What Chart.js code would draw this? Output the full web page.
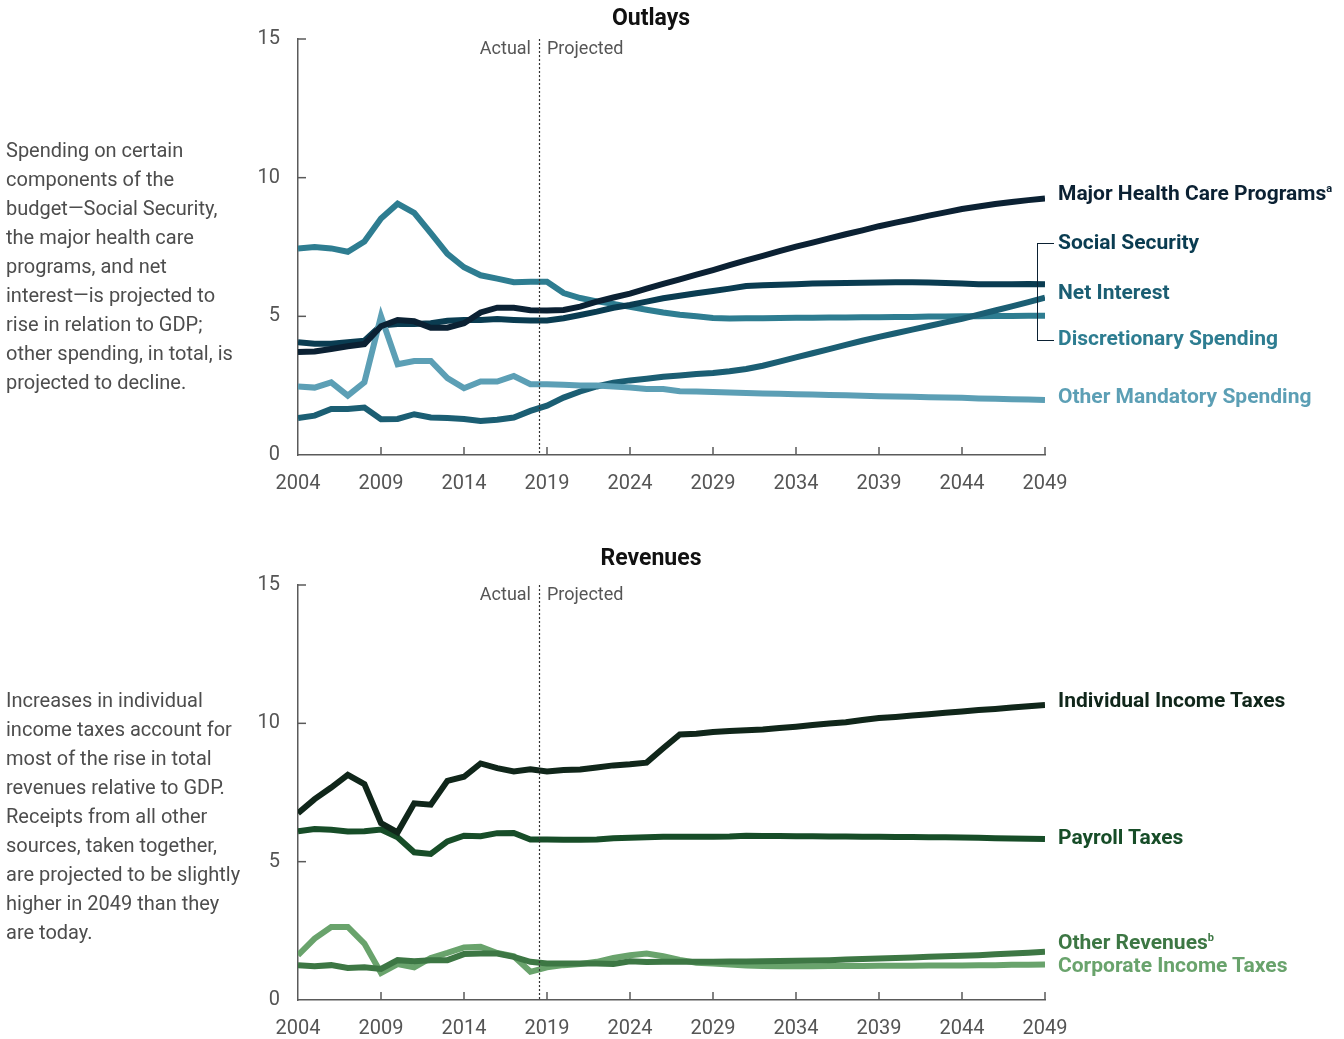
<!DOCTYPE html>
<html>
<head>
<meta charset="utf-8">
<script src="https://cdn.jsdelivr.net/npm/chart.js@4.4.1/dist/chart.umd.min.js"></script>
<style>
  body { margin: 0; background: #fff; font-family: Roboto, "Open Sans", sans-serif; }
  #wrap { position: relative; width: 1344px; height: 1039px; overflow: hidden; }
  canvas { position: absolute; left: 0; }
  .txt { position: absolute; white-space: nowrap; }
  .title { font-weight: 700; font-size: 23px; color: #111; transform: translate(-50%, -50%); }
  .note { font-size: 20px; line-height: 29px; color: #4d4d4d; left: 6px; }
  .ap { font-size: 18px; color: #555; transform: translateY(-50%); }
  .lab { font-weight: 700; font-size: 21px; left: 1058px; transform: translateY(-50%); }
  .lab sup { font-size: 11px; vertical-align: 8px; line-height: 0; }
  #bracket { position: absolute; left: 1037px; top: 243px; width: 17px; height: 98px;
             border: 1.5px solid #0b2133; border-right: none; box-sizing: border-box; }
</style>
</head>
<body>
<div id="wrap">
  <canvas id="outlays" width="1344" height="500" style="top:0"></canvas>
  <canvas id="revenues" width="1344" height="539" style="top:500px"></canvas>

  <div class="txt title" style="left:651px; top:17px">Outlays</div>
  <div class="txt title" style="left:651px; top:557px">Revenues</div>

  <div class="txt ap" style="right:813px; top:47px">Actual</div>
  <div class="txt ap" style="left:547px; top:47px">Projected</div>
  <div class="txt ap" style="right:813px; top:593px">Actual</div>
  <div class="txt ap" style="left:547px; top:593px">Projected</div>

  <div class="txt note" style="top:136px">Spending on certain<br>components of the<br>budget—Social Security,<br>the major health care<br>programs, and net<br>interest—is projected to<br>rise in relation to GDP;<br>other spending, in total, is<br>projected to decline.</div>
  <div class="txt note" style="top:686px">Increases in individual<br>income taxes account for<br>most of the rise in total<br>revenues relative to GDP.<br>Receipts from all other<br>sources, taken together,<br>are projected to be slightly<br>higher in 2049 than they<br>are today.</div>

  <div id="bracket"></div>
  <div class="txt lab" style="top:193px; color:#0b2133">Major Health Care Programs<sup>a</sup></div>
  <div class="txt lab" style="top:242px; color:#0a3c51">Social Security</div>
  <div class="txt lab" style="top:292px; color:#1b5e73">Net Interest</div>
  <div class="txt lab" style="top:338px; color:#2e7d91">Discretionary Spending</div>
  <div class="txt lab" style="top:396px; color:#5c9fb5">Other Mandatory Spending</div>

  <div class="txt lab" style="top:700px; color:#10261a">Individual Income Taxes</div>
  <div class="txt lab" style="top:837px; color:#174d28">Payroll Taxes</div>
  <div class="txt lab" style="top:942px; color:#3d7744">Other Revenues<sup>b</sup></div>
  <div class="txt lab" style="top:965px; color:#69a36c">Corporate Income Taxes</div>
</div>

<script>
// ─── Data (percentage of GDP) ─────────────────────
const years = [2004, 2005, 2006, 2007, 2008, 2009, 2010, 2011, 2012, 2013,
               2014, 2015, 2016, 2017, 2018, 2019, 2020, 2021, 2022, 2023,
               2024, 2025, 2026, 2027, 2028, 2029, 2030, 2031, 2032, 2033,
               2034, 2035, 2036, 2037, 2038, 2039, 2040, 2041, 2042, 2043,
               2044, 2045, 2046, 2047, 2048, 2049];
const yearTicks = [2004, 2009, 2014, 2019, 2024, 2029, 2034, 2039, 2044, 2049];
const valueTicks = [0, 5, 10, 15];
const splitYear = 2018.5;

// Outlays
const majorHealth = [3.71, 3.73, 3.82, 3.92, 4.00, 4.64, 4.87, 4.82, 4.59, 4.59,
                     4.75, 5.14, 5.31, 5.31, 5.22, 5.21, 5.23, 5.35, 5.53, 5.68,
                     5.82, 6.00, 6.17, 6.33, 6.50, 6.67, 6.85, 7.02, 7.18, 7.35,
                     7.51, 7.66, 7.81, 7.96, 8.10, 8.25, 8.38, 8.50, 8.63, 8.75,
                     8.87, 8.96, 9.05, 9.12, 9.19, 9.25];
const socialSecurity = [4.07, 4.01, 4.01, 4.07, 4.12, 4.67, 4.72, 4.72, 4.75, 4.84,
                        4.87, 4.87, 4.90, 4.87, 4.85, 4.85, 4.93, 5.05, 5.17, 5.31,
                        5.41, 5.53, 5.65, 5.74, 5.83, 5.91, 6.00, 6.09, 6.12, 6.14,
                        6.16, 6.18, 6.19, 6.20, 6.21, 6.22, 6.23, 6.23, 6.22, 6.20,
                        6.18, 6.16, 6.16, 6.16, 6.17, 6.16];
const netInterest = [1.33, 1.42, 1.66, 1.66, 1.71, 1.29, 1.30, 1.47, 1.35, 1.33,
                     1.30, 1.23, 1.27, 1.35, 1.59, 1.78, 2.07, 2.29, 2.47, 2.61,
                     2.69, 2.75, 2.82, 2.87, 2.92, 2.96, 3.02, 3.10, 3.22, 3.37,
                     3.52, 3.67, 3.82, 3.97, 4.12, 4.26, 4.39, 4.52, 4.65, 4.78,
                     4.91, 5.06, 5.21, 5.36, 5.51, 5.67];
const discretionary = [7.45, 7.50, 7.45, 7.33, 7.70, 8.53, 9.06, 8.73, 8.00, 7.25,
                       6.77, 6.48, 6.36, 6.23, 6.25, 6.25, 5.84, 5.66, 5.54, 5.45,
                       5.34, 5.24, 5.14, 5.06, 5.00, 4.94, 4.92, 4.93, 4.93, 4.94,
                       4.95, 4.95, 4.96, 4.96, 4.97, 4.97, 4.98, 4.98, 4.99, 4.99,
                       5.00, 5.00, 5.01, 5.01, 5.02, 5.02];
const otherMandatory = [2.47, 2.43, 2.62, 2.14, 2.62, 5.00, 3.27, 3.39, 3.39, 2.77,
                        2.41, 2.65, 2.65, 2.85, 2.55, 2.55, 2.53, 2.51, 2.51, 2.47,
                        2.43, 2.38, 2.38, 2.30, 2.29, 2.27, 2.25, 2.24, 2.22, 2.21,
                        2.19, 2.18, 2.16, 2.15, 2.14, 2.12, 2.11, 2.10, 2.08, 2.07,
                        2.06, 2.04, 2.03, 2.01, 2.00, 1.98];

// Revenues
const individualTaxes = [6.75, 7.26, 7.68, 8.14, 7.80, 6.39, 6.06, 7.11, 7.06, 7.92,
                         8.07, 8.55, 8.38, 8.26, 8.34, 8.26, 8.31, 8.33, 8.40, 8.48,
                         8.52, 8.58, 9.10, 9.60, 9.62, 9.69, 9.72, 9.75, 9.78, 9.83,
                         9.88, 9.94, 9.99, 10.04, 10.12, 10.19, 10.23, 10.28, 10.33, 10.38,
                         10.43, 10.48, 10.52, 10.57, 10.62, 10.66];
const payrollTaxes = [6.10, 6.18, 6.15, 6.09, 6.10, 6.16, 5.88, 5.34, 5.28, 5.73,
                      5.94, 5.92, 6.03, 6.04, 5.80, 5.80, 5.79, 5.79, 5.80, 5.85,
                      5.86, 5.88, 5.90, 5.90, 5.90, 5.90, 5.91, 5.94, 5.93, 5.93,
                      5.92, 5.92, 5.91, 5.91, 5.90, 5.90, 5.89, 5.89, 5.88, 5.88,
                      5.87, 5.86, 5.85, 5.84, 5.83, 5.82];
const otherRevenues = [1.26, 1.22, 1.26, 1.16, 1.18, 1.12, 1.44, 1.40, 1.44, 1.44,
                       1.66, 1.68, 1.68, 1.56, 1.38, 1.32, 1.32, 1.32, 1.32, 1.30,
                       1.40, 1.37, 1.38, 1.38, 1.38, 1.38, 1.39, 1.39, 1.40, 1.41,
                       1.42, 1.43, 1.44, 1.46, 1.48, 1.50, 1.52, 1.54, 1.56, 1.58,
                       1.60, 1.62, 1.65, 1.68, 1.71, 1.74];
const corporateTaxes = [1.62, 2.22, 2.64, 2.64, 2.04, 0.98, 1.30, 1.18, 1.52, 1.70,
                        1.90, 1.92, 1.70, 1.58, 1.02, 1.18, 1.26, 1.30, 1.38, 1.52,
                        1.62, 1.68, 1.58, 1.45, 1.35, 1.32, 1.28, 1.25, 1.23, 1.22,
                        1.22, 1.22, 1.23, 1.23, 1.23, 1.24, 1.24, 1.24, 1.25, 1.25,
                        1.25, 1.26, 1.26, 1.27, 1.27, 1.28];

// ─── Helpers ─────────────────────────────────────
const AXIS = "#5a5a5a";
const TICK_FONT = { family: "Roboto", size: 20 };

const pts = arr => arr.map((v, i) => ({ x: years[i], y: v }));
const series = (data, color) => ({
    data: pts(data), borderColor: color, borderWidth: 6, pointRadius: 0,
    tension: 0, fill: false, borderJoinStyle: "miter"
});

// inward tick marks + dotted Actual/Projected divider
const innerTicks = {
    id: "innerTicks",
    afterDatasetsDraw(chart) {
        const { ctx, chartArea: a, scales: { x, y } } = chart;
        const seg = (x1, y1, x2, y2) => { ctx.beginPath(); ctx.moveTo(x1, y1); ctx.lineTo(x2, y2); ctx.stroke(); };
        ctx.save();
        ctx.strokeStyle = AXIS;
        ctx.lineWidth = 1.5;
        valueTicks.forEach(v => { if (v > 0) seg(a.left, y.getPixelForValue(v), a.left + 8, y.getPixelForValue(v)); });
        yearTicks.forEach(t => { if (t > years[0]) seg(x.getPixelForValue(t), a.bottom, x.getPixelForValue(t), a.bottom - 8); });
        ctx.setLineDash([2, 2]);
        ctx.strokeStyle = "#333";
        ctx.lineWidth = 1.2;
        const px = Math.round(x.getPixelForValue(splitYear)) + 0.5;
        seg(px, a.top, px, a.bottom);
        ctx.restore();
    }
};

function makeChart(id, datasets, padTop, xHeight) {
    return new Chart(document.getElementById(id), {
        type: "line",
        data: { datasets },
        plugins: [innerTicks],
        options: {
            responsive: false, animation: false, devicePixelRatio: 1,
            layout: { padding: { left: 250, right: 299, top: padTop, bottom: 0 } },
            plugins: { legend: { display: false }, tooltip: { enabled: false } },
            scales: {
                x: {
                    type: "linear", min: 2004, max: 2049,
                    afterFit: s => { s.height = xHeight; },
                    afterBuildTicks: s => { s.ticks = yearTicks.map(v => ({ value: v })); },
                    grid: { display: true, drawOnChartArea: false, drawTicks: false },
                    border: { color: AXIS, width: 1.5 },
                    ticks: { color: "#555", font: TICK_FONT, padding: 17, maxRotation: 0, callback: v => String(v) }
                },
                y: {
                    min: 0, max: 15,
                    afterFit: s => { s.width = 48; },
                    afterBuildTicks: s => { s.ticks = valueTicks.map(v => ({ value: v })); },
                    grid: { display: true, drawOnChartArea: false, drawTicks: false },
                    border: { color: AXIS, width: 1.5 },
                    ticks: { color: "#555", font: TICK_FONT, padding: 18 }
                }
            }
        }
    });
}

makeChart("outlays", [
    series(majorHealth, "#0b2133"),
    series(otherMandatory, "#5c9fb5"),
    series(socialSecurity, "#0a3c51"),
    series(netInterest, "#1b5e73"),
    series(discretionary, "#2e7d91")
], 39, 45);

makeChart("revenues", [
    series(individualTaxes, "#10261a"),
    series(payrollTaxes, "#174d28"),
    series(otherRevenues, "#3d7744"),
    series(corporateTaxes, "#69a36c")
], 85, 39);
</script>
</body>
</html>
